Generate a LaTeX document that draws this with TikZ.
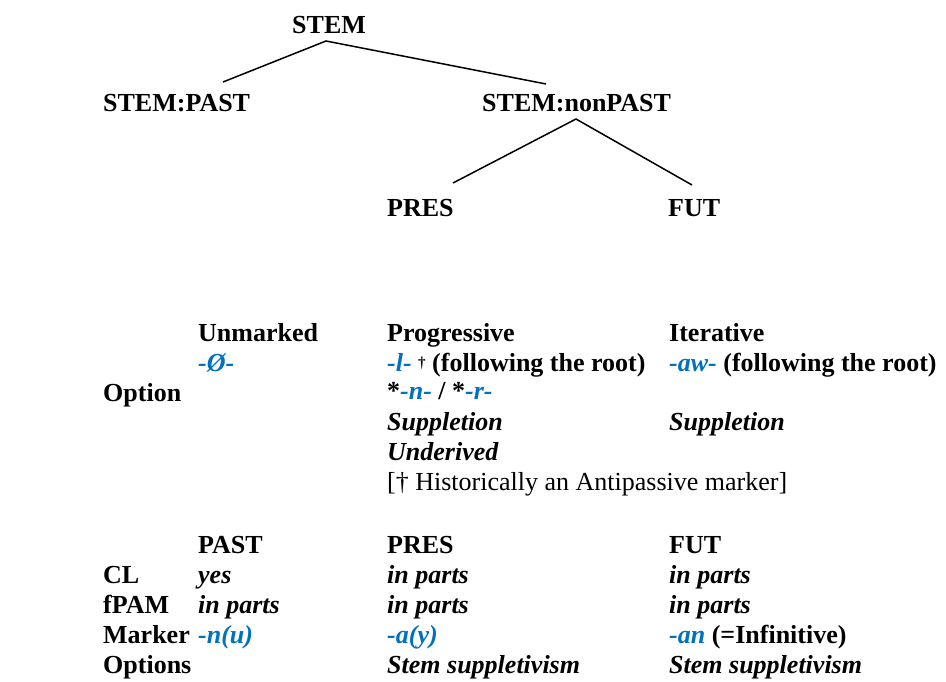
\documentclass[tikz,border=0pt]{standalone}
\usepackage{fontspec}
\setmainfont{Liberation Serif}
\definecolor{mblue}{RGB}{0,112,192}
\newcommand{\bi}[1]{\textbf{\textit{#1}}}
\newcommand{\mk}[1]{\textcolor{mblue}{\textbf{\textit{#1}}}}
\begin{document}
\begin{tikzpicture}[x=1pt,y=-1pt,
  txt/.style={anchor=base west,inner sep=0pt,font=\fontsize{26}{30}\selectfont\bfseries},
  plain/.style={anchor=base west,inner sep=0pt,font=\fontsize{26}{30}\selectfont},
  branch/.style={line width=1.5pt}]
\useasboundingbox (0,0) rectangle (946,682);

% tree
\node[txt] (stem) at (292,34) {STEM};
\node[txt] (past) at (103,112) {STEM:PAST};
\node[txt] (nonpast) at (482,112) {STEM:nonPAST};
\node[txt] (pres) at (387,216) {PRES};
\node[txt] (fut) at (668,216) {FUT};

\coordinate (stemfoot) at (326,41);
\coordinate (pasthead) at (223,82);
\coordinate (nonpasthead) at (546,84);
\coordinate (nonpastfoot) at (576,119);
\coordinate (preshead) at (453,183);
\coordinate (futhead) at (692,185);
\draw[branch] (pasthead) -- (stemfoot) -- (nonpasthead);
\draw[branch] (preshead) -- (nonpastfoot) -- (futhead);

% option table
\node[txt] (unm) at (198,341) {Unmarked};
\node[txt] (prog) at (387,341) {Progressive};
\node[txt] (iter) at (669,341) {Iterative};
\node[txt] (zero) at (198,371) {\mk{-Ø-}};
\node[txt] (progm) at (387,371) {\mk{-l-} \raisebox{4pt}{\fontsize{15}{15}\selectfont †} (following the root)};
\node[txt] (iterm) at (669,371) {\mk{-aw-} (following the root)};
\node[txt] (opt) at (103,401) {Option};
\node[txt] (progalt) at (387,399) {*\mk{-n-} / *\mk{-r-}};
\node[txt] (progsup) at (387,430) {\bi{Suppletion}};
\node[txt] (itersup) at (669,430) {\bi{Suppletion}};
\node[txt] (progund) at (387,460) {\bi{Underived}};
\node[plain] (note) at (387,490) {[† Historically an Antipassive marker]};

% tense table
\node[txt] (hpast) at (198,553) {PAST};
\node[txt] (hpres) at (387,553) {PRES};
\node[txt] (hfut) at (669,553) {FUT};
\node[txt] (cl) at (103,583) {CL};
\node[txt] (clpast) at (198,583) {\bi{yes}};
\node[txt] (clpres) at (387,583) {\bi{in parts}};
\node[txt] (clfut) at (669,583) {\bi{in parts}};
\node[txt] (fpam) at (103,613) {fPAM};
\node[txt] (fpampast) at (198,613) {\bi{in parts}};
\node[txt] (fpampres) at (387,613) {\bi{in parts}};
\node[txt] (fpamfut) at (669,613) {\bi{in parts}};
\node[txt] (marker) at (103,643) {Marker};
\node[txt] (mpast) at (198,643) {\mk{-n(u)}};
\node[txt] (mpres) at (387,643) {\mk{-a(y)}};
\node[txt] (mfut) at (669,643) {\mk{-an} (=Infinitive)};
\node[txt] (opts) at (103,673) {Options};
\node[txt] (optpres) at (387,673) {\bi{Stem suppletivism}};
\node[txt] (optfut) at (669,673) {\bi{Stem suppletivism}};
\end{tikzpicture}
\end{document}
